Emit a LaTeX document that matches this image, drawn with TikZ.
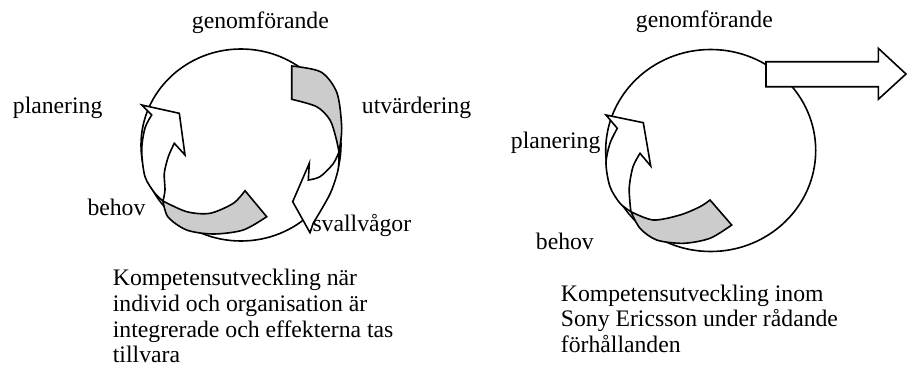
\documentclass[tikz,border=0pt]{standalone}
\usepackage{fontspec}
\setmainfont{Liberation Serif}
\definecolor{bandgray}{RGB}{204,204,204}
\begin{document}
\begin{tikzpicture}[x=1pt,y=-1pt,line join=miter,
  outline/.style={draw=black,line width=1.6pt},
  gband/.style={outline,fill=bandgray},
  warrow/.style={outline,fill=white},
  lbl/.style={anchor=base west,inner sep=0pt,font=\fontsize{23.7}{25.7}\selectfont},
  cap/.style={lbl,align=left,anchor=north west}]
\useasboundingbox (0,0) rectangle (908,367);

% ---------- left diagram ----------
\draw[outline] (241,145) ellipse [x radius=100, y radius=96];

% bottom gray band
\filldraw[gband] plot[smooth] coordinates {(163,201) (186.7,211.7) (210,213.3) (233.3,203.3) (245,190.7)}
  -- (266.7,216.7)
  -- plot[smooth] coordinates {(266.7,216.7) (243.3,230) (213.3,234) (186.7,230) (168,217) (163,201)} -- cycle;
% planering arrow
\filldraw[warrow] plot[smooth] coordinates {(163,201) (155,193.3) (145,176.7) (141.7,150) (145,128) (151.7,115)}
  -- (141.7,105) -- (179.3,113.3) -- (185,155) -- (174.3,143.3)
  -- plot[smooth] coordinates {(174.3,143.3) (168.3,156.7) (164.3,173.3) (165,190) (163,201)} -- cycle;

% top-right gray band
\filldraw[gband] (291.7,66) -- (291.7,99.3)
  -- plot[smooth] coordinates {(291.7,99.3) (316.7,106.7) (330,120) (336,138) (339,152)}
  -- plot[smooth] coordinates {(339,152) (341.7,128) (337,93) (321,72) (291.7,66)} -- cycle;
% svallvagor arrow
\filldraw[warrow] plot[smooth] coordinates {(339,152) (338,170) (330,194) (313.3,223)}
  -- (310,232.7) -- (292.7,201.7) -- (309.3,163.3) -- (308.3,180)
  -- plot[smooth] coordinates {(308.3,180) (320,176.7) (333,164) (339,152)} -- cycle;

\node[lbl] (g1) at (191.7,28.3) {genomförande};
\node[lbl] (p1) at (12.7,113.3) {planering};
\node[lbl] (u1) at (361.7,113.3) {utvärdering};
\node[lbl] (b1) at (87.3,215) {behov};
\node[lbl] (s1) at (312.3,231.7) {svallvågor};
\node[lbl] (c1a) at (112.7,285) {Kompetensutveckling när};
\node[lbl] (c1b) at (112.7,311.7) {individ och organisation är};
\node[lbl] (c1c) at (112.7,337) {integrerade och effekterna tas};
\node[lbl] (c1d) at (112.7,362) {tillvara};

% ---------- right diagram ----------
\draw[outline] (710.7,150.5) ellipse [x radius=105, y radius=101];

\filldraw[gband] plot[smooth] coordinates {(631,211.7) (653.3,220) (680,215) (700,206.7) (710,200)}
  -- (731.7,225)
  -- plot[smooth] coordinates {(731.7,225) (710,238.3) (683.3,243.3) (656.7,240) (640,228.3) (631,211.7)} -- cycle;
\filldraw[warrow] plot[smooth] coordinates {(631,211.7) (620,203.3) (610,186.7) (606,163.3) (610,143.3) (617.3,128.3)}
  -- (606,115) -- (643.3,122.7) -- (650.7,166) -- (640,153.3)
  -- plot[smooth] coordinates {(640,153.3) (633,166.7) (629.3,186.7) (630,203.3) (631,211.7)} -- cycle;

% block arrow to the right
\filldraw[warrow] (766,61.7) -- (878.3,61.7) -- (878.3,48.3) -- (906,74) -- (878.3,99.3)
  -- (878.3,86.7) -- (766,86.7) -- cycle;

\node[lbl] (g2) at (635.7,27.8) {genomförande};
\node[lbl] (p2) at (510.7,148.3) {planering};
\node[lbl] (b2) at (535.7,249.3) {behov};
\node[lbl] (c2a) at (560.7,301) {Kompetensutveckling inom};
\node[lbl] (c2b) at (560.7,326.7) {Sony Ericsson under rådande};
\node[lbl] (c2c) at (560.7,352.4) {förhållanden};
\end{tikzpicture}
\end{document}
